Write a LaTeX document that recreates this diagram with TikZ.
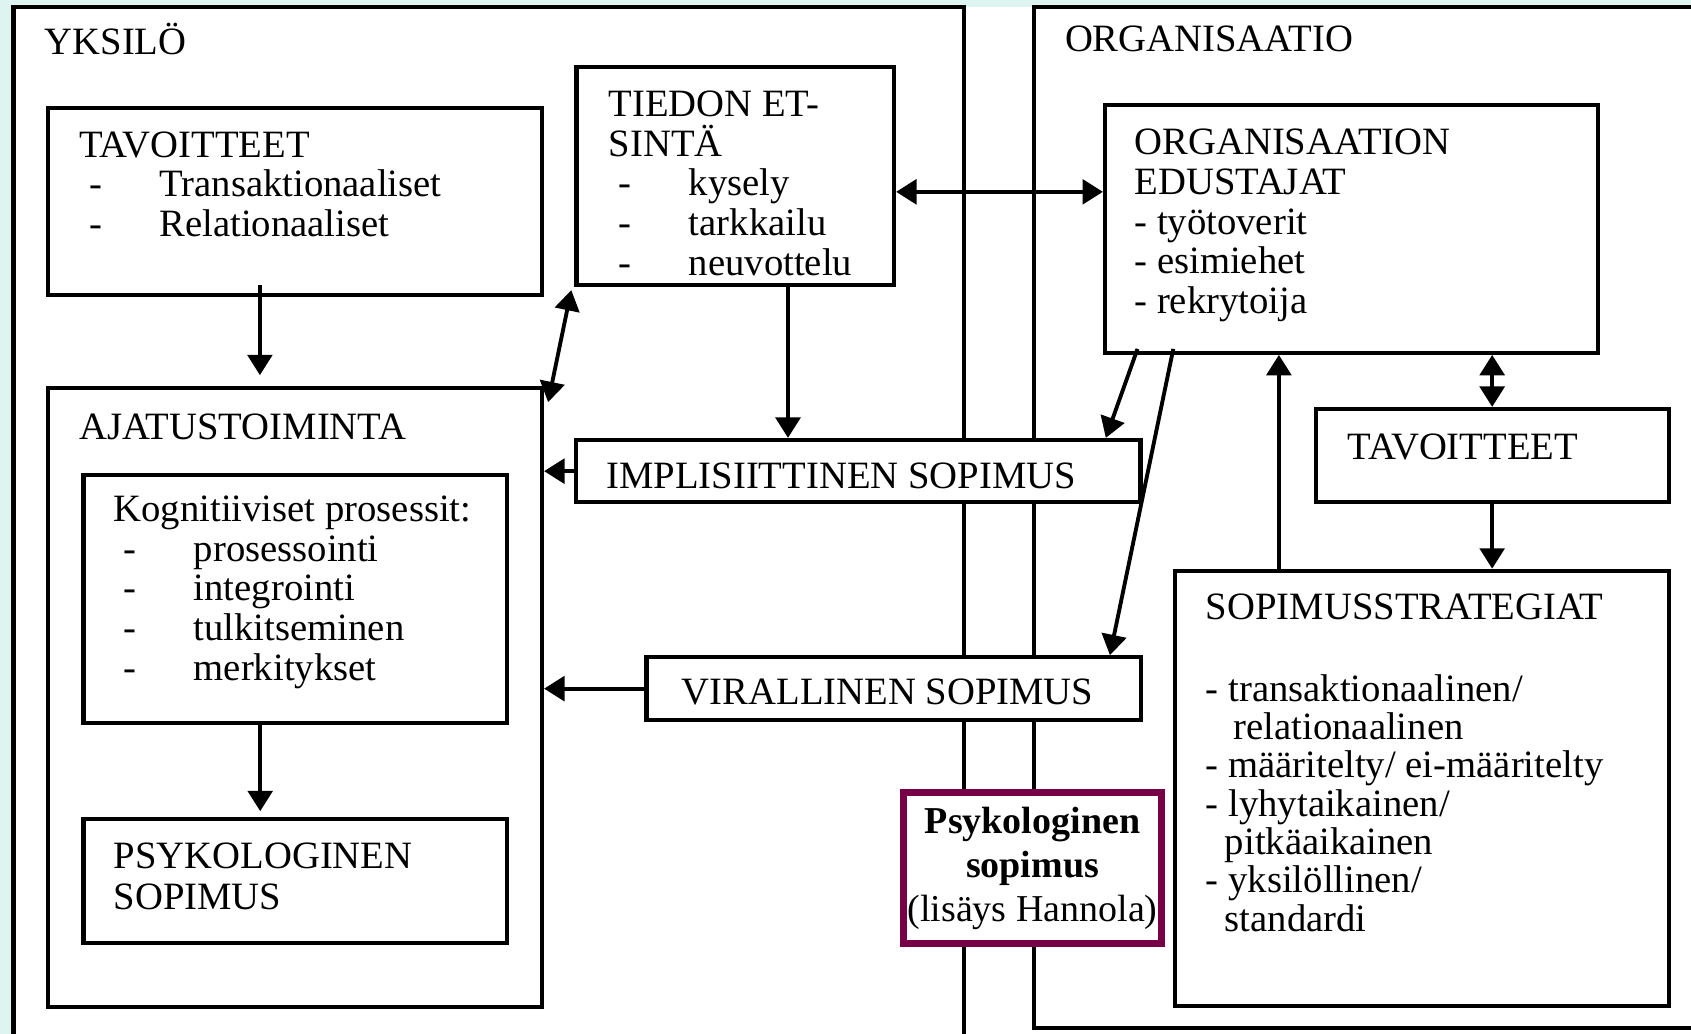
\documentclass[tikz,border=0pt]{standalone}
\usepackage{fontspec}
\setmainfont{Liberation Serif}
\newfontfamily\psyfont{Liberation Serif}
\usetikzlibrary{arrows.meta,fit}
\definecolor{bgcyan}{RGB}{221,244,241}
\definecolor{psypurple}{RGB}{120,0,70}
\newcommand{\litem}[1]{\hspace*{2.8pt}\makebox[20pt][l]{-}#1}

\begin{document}
\begin{tikzpicture}[x=0.01cm,y=-0.01cm,
  box/.style={draw,line width=1.2pt,fill=white,inner sep=0pt},
  txt/.style={inner sep=0pt,align=left,anchor=north west,font=\fontsize{11}{11.3}\selectfont},
  arr/.style={line width=1.1pt,-{Triangle[length=5.8pt,width=7pt]}},
  darr/.style={line width=1.1pt,{Triangle[length=5.8pt,width=7pt]}-{Triangle[length=5.8pt,width=7pt]}}]
\useasboundingbox (0,0) rectangle (1691,1034);
\fill[bgcyan] (0,0) rectangle (1691,1034);
\fill[white] (13.5,7) rectangle (1691,1034);
% yksilo and organisaatio
\draw[line width=1.2pt] (13.5,1040) -- (13.5,7) -- (964,7) -- (964,1040);
\draw[line width=1.2pt] (1700,1028) -- (1034.3,1028) -- (1034.3,7) -- (1700,7);
\node[txt,anchor=base west] (yksilo) at (44,55) {YKSILÖ};
\node[txt,anchor=base west] (organ) at (1064.3,51.7) {ORGANISAATIO};

% boxes
\node[box,fit={(47.8,108.3) (542,295)}] (tavL) {};
\node[box,fit={(576.4,66.7) (894,285)}] (tiedon) {};
\node[box,fit={(1105,105) (1598,352.8)}] (org) {};
\node[box,fit={(47.8,388.3) (542,1006.7)}] (ajat) {};
\node[box,fit={(83.4,475) (507,722.7)}] (kog) {};
\node[box,fit={(83.4,819.3) (507,943.3)}] (psyL) {};
\node[box,fit={(575.9,440) (1140.4,502.3)}] (impl) {};
\node[box,fit={(646.5,657.3) (1141.2,720)}] (vir) {};
\node[box,fit={(1315.6,409) (1668.7,502.3)}] (tavR) {};
\node[box,fit={(1175,570.8) (1668.7,1006)}] (sop) {};

% texts
\node[txt] (tavL-t) at (78.5,130.7) {TAVOITTEET\\\litem{Transaktionaaliset}\\\litem{Relationaaliset}};
\node[txt] (tiedon-t) at (608,90) {TIEDON ET-\\SINTÄ\\\litem{kysely}\\\litem{tarkkailu}\\\litem{neuvottelu}};
\node[txt] (org-t) at (1133.8,128.3) {ORGANISAATION\\EDUSTAJAT\\- työtoverit\\- esimiehet\\- rekrytoija};
\node[txt] (ajat-t) at (78.5,413.3) {AJATUSTOIMINTA};
\node[txt] (kog-t) at (112.9,495) {Kognitiiviset prosessit:\\\litem{prosessointi}\\\litem{integrointi}\\\litem{tulkitseminen}\\\litem{merkitykset}};
\node[txt,font=\fontsize{11}{11.9}\selectfont] (psyL-t) at (113,841.7) {PSYKOLOGINEN\\SOPIMUS};
\node[txt] (impl-t) at (605.7,462.3) {IMPLISIITTINEN SOPIMUS};
\node[txt] (vir-t) at (681.2,678.3) {VIRALLINEN SOPIMUS};
\node[txt] (tavR-t) at (1346.9,433.3) {TAVOITTEET};
\node[txt,font=\fontsize{11}{10.9}\selectfont] (sop-t) at (1205.2,593.3) {SOPIMUSSTRATEGIAT\\[12.3pt]- transaktionaalinen/\\\hspace*{7.9pt}relationaalinen\\- määritelty/ ei-määritelty\\- lyhytaikainen/\\\hspace*{5.4pt}pitkäaikainen\\- yksilöllinen/\\\hspace*{5.4pt}standardi};

\node[draw=psypurple,line width=2pt,fill=white,minimum width=2.58cm,minimum height=1.5cm,inner sep=0pt,align=center,font=\psyfont\fontsize{10.8}{12.5}\selectfont] (psy) at (1032.5,868) {\textbf{Psykologinen}\\\textbf{sopimus}\\(lisäys Hannola)};

% arrows
\coordinate (tdown) at ([shift={(52.8,0)}]tiedon.south);
\coordinate (tside) at ([shift={(0,16)}]tiedon.east);
\coordinate (sup) at ([shift={(106,0)}]sop.north west);
\draw[arr] ([shift={(-35,-12)}]tavL.south) -- ([shift={(-35,-11)}]ajat.north);
\draw[darr] ([shift={(-3,3)}]tiedon.south west) -- ([shift={(4,16)}]ajat.north east);
\draw[arr] (tdown) -- (tdown |- impl.north);
\draw[darr] (tside) -- (tside -| org.west);
\draw[arr] (impl.west) -- (impl.west -| ajat.east);
\draw[arr] (vir.west) -- (vir.west -| ajat.east);
\draw[arr] ([shift={(34.6,-6)}]org.south west) -- ([shift={(-36.7,0)}]impl.north east);
\draw[arr] ([shift={(70.4,-6)}]org.south west) -- ([shift={(-33.4,0)}]vir.north east);
\draw[arr] (sup) -- (sup |- org.south);
\draw[darr] (tavR.north) -- (tavR.north |- org.south);
\draw[arr] (tavR.south) -- (tavR.south |- sop.north);
\draw[arr] ([shift={(-35,-3.5)}]kog.south) -- ([shift={(-35,-6)}]psyL.north);
\end{tikzpicture}
\end{document}
